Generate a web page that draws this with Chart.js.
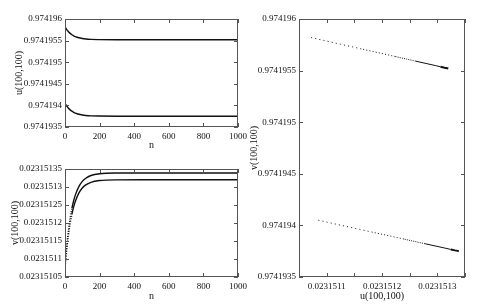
<!DOCTYPE html>
<html>
<head>
<meta charset="utf-8">
<script src="https://cdn.jsdelivr.net/npm/chart.js@4.4.0/dist/chart.umd.min.js"></script>
<style>
body { margin: 0; background: #fff; }
.box { position: absolute; }
canvas { display: block; }
</style>
</head>
<body>
<div class="box" style="left:0;top:0"><canvas id="c1" width="252" height="150"></canvas></div>
<div class="box" style="left:0;top:150px"><canvas id="c2" width="252" height="158"></canvas></div>
<div class="box" style="left:245px;top:0"><canvas id="c3" width="238" height="308"></canvas></div>
<script>
const nVals = [0, 5, 10, 15, 20, 30, 40, 50, 60, 80, 100, 120, 150, 200, 300, 500, 1000]
// u(100,100), upper and lower run
const u1 = [0.97419582, 0.974195786, 0.974195756, 0.97419573, 0.974195706, 0.974195667, 0.974195636, 0.974195611,
  0.974195592, 0.974195565, 0.974195548, 0.974195537, 0.974195528, 0.974195523, 0.97419552, 0.97419552, 0.97419552]
const u2 = [0.97419405, 0.974194016, 0.974193986, 0.97419396, 0.974193936, 0.974193897, 0.974193866, 0.974193841,
  0.974193822, 0.974193795, 0.974193778, 0.974193767, 0.974193758, 0.974193753, 0.97419375, 0.97419375, 0.97419375]
// v(100,100), run paired with u1 and with u2
const v1 = [0.023151072, 0.0231511, 0.0231511245, 0.0231511465, 0.023151166, 0.0231511986, 0.0231512243, 0.0231512446,
  0.0231512606, 0.0231512831, 0.0231512971, 0.0231513057, 0.023151313, 0.0231513179, 0.0231513198, 0.02315132, 0.02315132]
const v2 = [0.023151085, 0.0231511135, 0.0231511388, 0.0231511613, 0.0231511812, 0.0231512147, 0.023151241, 0.0231512618,
  0.0231512781, 0.0231513012, 0.0231513155, 0.0231513244, 0.0231513319, 0.0231513368, 0.0231513388, 0.023151339, 0.023151339]

const nTicks = [0, 200, 400, 600, 800, 1000]
const nLabels = ['0', '200', '400', '600', '800', '1000']
const uTicks = [0.9741935, 0.974194, 0.9741945, 0.974195, 0.9741955, 0.974196]
const uLabels = ['0.9741935', '0.974194', '0.9741945', '0.974195', '0.9741955', '0.974196']
const vTicks = [0.02315105, 0.0231511, 0.02315115, 0.0231512, 0.02315125, 0.0231513, 0.02315135]
const vLabels = ['0.02315105', '0.0231511', '0.02315115', '0.0231512', '0.02315125', '0.0231513', '0.02315135']
const vLabelsPhase = ['', '0.0231511', '', '0.0231512', '', '0.0231513', '']

const ink = '#111'
const tickFont = { family: 'Liberation Serif', size: 9 }
const titleFont = { family: 'Liberation Serif', size: 10, lineHeight: 1 }

// box round the plot and short inward ticks on all four sides
const frame = {
  id: 'frame',
  afterDraw(chart) {
    const { ctx, chartArea: a, scales } = chart
    ctx.save()
    ctx.strokeStyle = '#555'
    ctx.lineWidth = 1
    ctx.strokeRect(Math.round(a.left) + 0.5, Math.round(a.top) + 0.5, Math.round(a.width) - 1, Math.round(a.height) - 1)
    ctx.beginPath()
    scales.x.ticks.forEach(t => {
      const px = Math.round(scales.x.getPixelForValue(t.value)) + 0.5
      ctx.moveTo(px, a.bottom); ctx.lineTo(px, a.bottom - 4)
      ctx.moveTo(px, a.top); ctx.lineTo(px, a.top + 4)
    })
    scales.y.ticks.forEach(t => {
      const py = Math.round(scales.y.getPixelForValue(t.value)) + 0.5
      ctx.moveTo(a.left, py); ctx.lineTo(a.left + 4, py)
      ctx.moveTo(a.right, py); ctx.lineTo(a.right - 4, py)
    })
    ctx.stroke()
    ctx.restore()
  }
}

function pts(xs, ys) {
  return xs.map((x, i) => ({ x: x, y: ys[i] }))
}

function makeChart(id, datasets, o) {
  return new Chart(document.getElementById(id), {
    type: 'scatter',
    data: { datasets: datasets },
    plugins: [frame],
    options: {
      responsive: false,
      animation: false,
      layout: { padding: { top: 19, right: o.right, left: 0, bottom: 0 } },
      plugins: { legend: { display: false }, tooltip: { enabled: false } },
      scales: {
        x: {
          type: 'linear', min: o.xmin, max: o.xmax,
          grid: { display: false, drawTicks: false },
          border: { display: false },
          afterBuildTicks: s => { s.ticks = o.xTicks.map(v => ({ value: v })) },
          afterFit: s => { s.height = o.xh; s.paddingLeft = 0; s.paddingRight = 0 },
          ticks: {
            font: tickFont, color: ink, padding: 4, autoSkip: false, maxRotation: 0,
            callback: (v, i) => o.xLabels[i]
          },
          title: { display: true, text: o.xTitle, font: titleFont, color: ink, padding: { top: 0, bottom: o.xTitlePad } }
        },
        y: {
          type: 'linear', min: o.ymin, max: o.ymax,
          grid: { display: false, drawTicks: false },
          border: { display: false },
          afterBuildTicks: s => { s.ticks = o.yTicks.map(v => ({ value: v })) },
          afterFit: s => { s.width = o.yw; s.paddingTop = 0; s.paddingBottom = 0 },
          ticks: {
            font: tickFont, color: ink, padding: 3, autoSkip: false,
            callback: (v, i) => o.yLabels[i]
          },
          title: { display: true, text: o.yTitle, font: titleFont, color: ink, padding: { top: o.yTitlePad, bottom: 0 } }
        }
      }
    }
  })
}

function curve(data, w, dash) {
  return {
    data: data, showLine: true, pointRadius: 0, borderColor: ink, borderWidth: w,
    cubicInterpolationMode: 'monotone',
    segment: dash ? { borderDash: dash } : {}
  }
}

// u against n
makeChart('c1', [curve(pts(nVals, u1), 1.4), curve(pts(nVals, u2), 1.4)], {
  right: 14, xh: 23, yw: 65, xmin: 0, xmax: 1000, ymin: 0.9741935, ymax: 0.974196,
  xTicks: nTicks, xLabels: nLabels, yTicks: uTicks, yLabels: uLabels,
  xTitle: 'n', yTitle: 'u(100,100)', xTitlePad: 0, yTitlePad: 14
})

// v against n, steep start drawn dotted
const earlyDots = ctx => ctx.p0DataIndex < 6 ? [1, 1.5] : undefined
makeChart('c2', [curve(pts(nVals, v1), 1.4, earlyDots), curve(pts(nVals, v2), 1.4, earlyDots)], {
  right: 14, xh: 31, yw: 65, xmin: 0, xmax: 1000, ymin: 0.02315105, ymax: 0.02315135,
  xTicks: nTicks, xLabels: nLabels, yTicks: vTicks, yLabels: vLabels,
  xTitle: 'n', yTitle: 'v(100,100)', xTitlePad: 7, yTitlePad: 10
})

// phase plot, points spread out at first and pile up at the end
const phaseDash = ctx => {
  const i = ctx.p0DataIndex
  if (i < 4) return [1, 3.2]
  if (i < 6) return [1, 2.2]
  if (i < 8) return [1, 1.2]
  return undefined
}
const phaseWidth = ctx => ctx.p0DataIndex >= 11 ? 2 : 1
function phase(data) {
  return {
    data: data, showLine: true, pointRadius: 0, borderColor: ink, borderWidth: 1,
    segment: { borderDash: phaseDash, borderWidth: phaseWidth }
  }
}
makeChart('c3', [phase(pts(v1, u1)), phase(pts(v2, u2))], {
  right: 18, xh: 31, yw: 54, xmin: 0.02315105, xmax: 0.02315135, ymin: 0.9741935, ymax: 0.974196,
  xTicks: vTicks, xLabels: vLabelsPhase, yTicks: uTicks, yLabels: uLabels,
  xTitle: 'u(100,100)', yTitle: 'v(100,100)', xTitlePad: 7, yTitlePad: 4
})
</script>
</body>
</html>
